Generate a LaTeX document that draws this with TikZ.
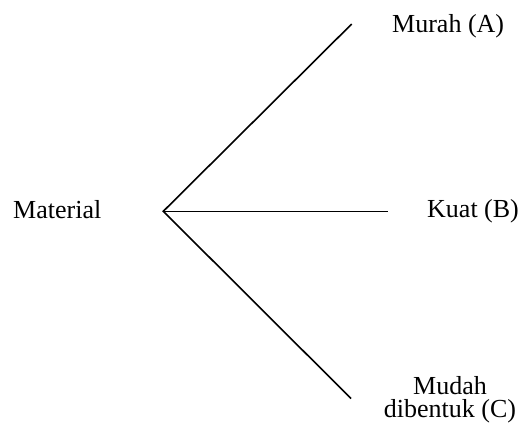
\documentclass[tikz,border=0pt]{standalone}
\usepackage{fontspec}
\setmainfont{Liberation Serif}
\begin{document}
\begin{tikzpicture}[x=1pt,y=-1pt,
  lbl/.style={inner sep=0pt,font=\fontsize{26}{23}\selectfont},
  branch/.style={line width=1.6pt,line cap=butt}]
  \useasboundingbox (0,0) rectangle (520,426);
  % labels
  \node[lbl,anchor=base west] (mat) at (13,218) {Material};
  \node[lbl,anchor=base west] (a) at (392,32.5) {Murah (A)};
  \node[lbl,anchor=base west] (b) at (427,217) {Kuat (B)};
  \node[lbl,anchor=base,align=center] (c) at (450,417.5) {Mudah\\dibentuk (C)};
  % branch points
  \coordinate (hub) at (163.3,211.3);
  \coordinate (ea) at (351.7,24);
  \coordinate (eb) at (388.3,211.3);
  \coordinate (ec) at (351,398.5);
  \draw[branch] (ea) -- (hub) -- (ec);
  \draw[branch] (hub) -- (eb);
\end{tikzpicture}
\end{document}
